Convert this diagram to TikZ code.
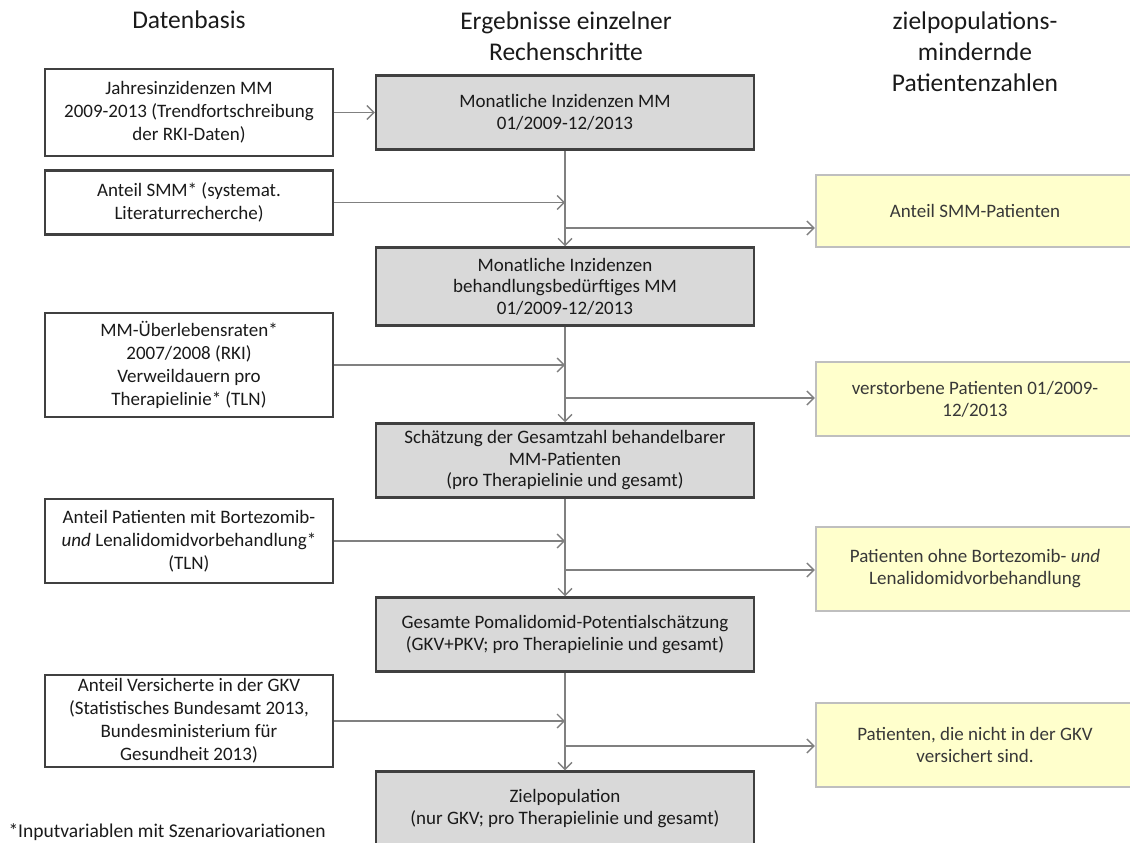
\documentclass[tikz,border=0pt]{standalone}
\usepackage{fontspec}
\setmainfont{Carlito}
\usetikzlibrary{arrows.meta}
\definecolor{boxgray}{HTML}{D9D9D9}
\definecolor{edgedark}{HTML}{404040}
\definecolor{linegray}{HTML}{808080}
\definecolor{paleyellow}{HTML}{FFFFCC}
\definecolor{edgelight}{HTML}{BFBFBF}
\definecolor{txt}{HTML}{1A1A1A}
\definecolor{txtsoft}{HTML}{383838}
\tikzstyle{source} = [rectangle, 
minimum width=288pt, 
inner sep=0pt, 
align=center, 
draw=edgedark, line width=2.5pt, 
fill=white, text=txt, 
font=\fontsize{19}{23}\selectfont]
\tikzstyle{result} = [rectangle, 
minimum width=378pt, 
minimum height=74pt, 
inner sep=0pt, 
align=center, 
draw=edgedark, line width=2.5pt, 
fill=boxgray, text=txt, 
font=\fontsize{19}{21.5}\selectfont]
\tikzstyle{loss} = [rectangle, 
minimum width=318pt, 
inner sep=0pt, 
align=center, 
draw=edgelight, line width=2.5pt, 
fill=paleyellow, text=txtsoft, 
font=\fontsize{19}{22}\selectfont]
\tikzstyle{heading} = [align=center, text=txt, font=\fontsize{25.5}{31}\selectfont]
\tikzstyle{arrow} = [line width=1.3pt, draw=linegray, -{Straight Barb[length=7pt,width=14pt]}]

\begin{document}
\begin{tikzpicture}[x=1pt, y=-1pt, node distance=174pt]
\clip (0,0) rectangle (1130,843);

% column headings
\node (hsrc) [heading] at (189,20) {Datenbasis};
\node (hres) [heading] at (566,36) {Ergebnisse einzelner\\Rechenschritte};
\node (hloss) [heading] at (975,52) {zielpopulations-\\mindernde\\Patientenzahlen};

% Datenbasis
\node (in1) [source, minimum height=87pt] at (189,112.5) {Jahresinzidenzen MM\\2009-2013 (Trendfortschreibung\\der RKI-Daten)};
\node (in2) [source, minimum height=64pt] at (189,202.5) {Anteil SMM* (systemat.\\Literaturrecherche)};
\node (in3) [source, minimum height=104pt] at (189,365) {MM-Überlebensraten*\\2007/2008 (RKI)\\Verweildauern pro\\Therapielinie* (TLN)};
\node (in4) [source, minimum height=84pt] at (189,541) {Anteil Patienten mit Bortezomib-\\\textit{und} Lenalidomidvorbehandlung*\\(TLN)};
\node (in5) [source, minimum height=92pt] at (189,721) {Anteil Versicherte in der GKV\\(Statistisches Bundesamt 2013,\\Bundesministerium für\\Gesundheit 2013)};

% Rechenschritte
\node (m1) [result] at (565,112.5) {Monatliche Inzidenzen MM\\01/2009-12/2013};
\node (m2) [result, below of=m1, minimum height=78pt] {Monatliche Inzidenzen\\behandlungsbedürftiges MM\\01/2009-12/2013};
\node (m3) [result, below of=m2] {Schätzung der Gesamtzahl behandelbarer\\MM-Patienten\\(pro Therapielinie und gesamt)};
\node (m4) [result, below of=m3] {Gesamte Pomalidomid-Potentialschätzung\\(GKV+PKV; pro Therapielinie und gesamt)};
\node (m5) [result, below of=m4] {Zielpopulation\\(nur GKV; pro Therapielinie und gesamt)};

% zielpopulationsmindernde Zahlen
\node (out1) [loss, minimum height=72pt] at (975,211) {Anteil SMM-Patienten};
\node (out2) [loss, minimum height=74pt] at (975,399) {verstorbene Patienten 01/2009-\\12/2013};
\node (out3) [loss, minimum height=84pt] at (975,569) {Patienten ohne Bortezomib- \textit{und}\\Lenalidomidvorbehandlung};
\node (out4) [loss, minimum height=84pt] at (975,745) {Patienten, die nicht in der GKV\\versichert sind.};

\coordinate (split1) at (566,228);
\coordinate (split2) at (566,398);
\coordinate (split3) at (566,570);
\coordinate (split4) at (566,746);

\draw [arrow] (in1.east) -- (m1.west);
\draw [arrow] (m1) -- (m2);
\draw [arrow] (m2) -- (m3);
\draw [arrow] (m3) -- (m4);
\draw [arrow] (m4) -- (m5);
\draw [arrow] (in2.east) -- (in2.east -| m1.south);
\draw [arrow] (in3.east) -- (in3.east -| m2.south);
\draw [arrow] (in4.east) -- (in4.east -| m3.south);
\draw [arrow] (in5.east) -- (in5.east -| m4.south);
\draw [arrow] (split1) -- (out1.west |- split1);
\draw [arrow] (split2) -- (out2.west |- split2);
\draw [arrow] (split3) -- (out3.west |- split3);
\draw [arrow] (split4) -- (out4.west |- split4);

\node (note) [anchor=west, text=txt, font=\fontsize{19.5}{21}\selectfont] at (5,832) {*Inputvariablen mit Szenariovariationen};

\end{tikzpicture}
\end{document}
